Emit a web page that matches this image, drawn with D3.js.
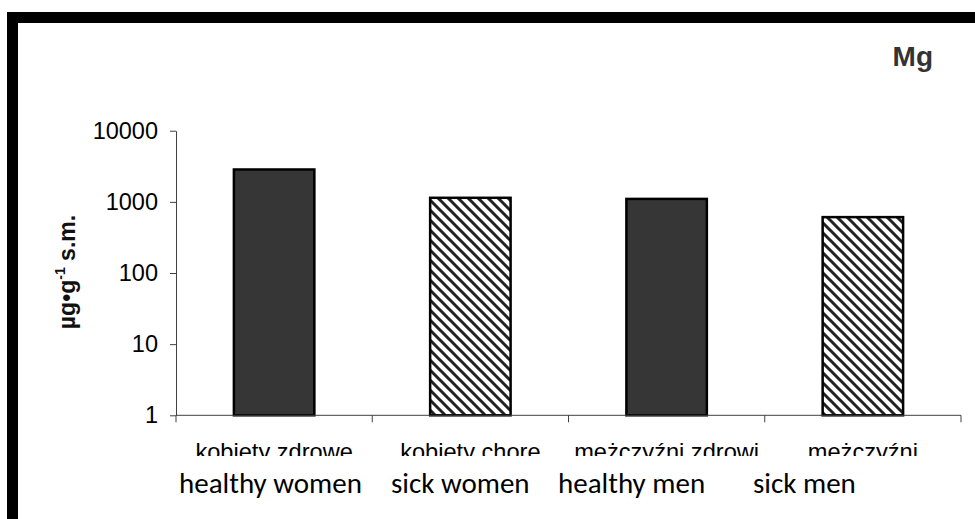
<!DOCTYPE html>
<html>
<head>
<meta charset="utf-8">
<script src="https://cdn.jsdelivr.net/npm/d3@7"></script>
<style>
  html, body { margin: 0; padding: 0; background: #fff; }
  svg { display: block; }
</style>
</head>
<body>
<script>
// Magnesium content per group (µg·g⁻¹ dry mass), log axis
const categories = ["kobiety zdrowe", "kobiety chore", "mężczyźni zdrowi", "mężczyźni chorzy"];
const englishLabels = ["healthy women", "sick women", "healthy men", "sick men"];
const values = [2850, 1140, 1100, 610];
const healthy = [true, false, true, false];
const yTicks = [1, 10, 100, 1000, 10000];
const title = "Mg";

const W = 975, H = 519;
const svg = d3.select("body").append("svg").attr("width", W).attr("height", H);

// diagonal hatching for the "sick" groups
const defs = svg.append("defs");
const pat = defs.append("pattern")
  .attr("id", "hatch").attr("patternUnits", "userSpaceOnUse")
  .attr("width", 10).attr("height", 10);
pat.append("rect").attr("width", 10).attr("height", 10).attr("fill", "#fff");
pat.append("path")
  .attr("d", "M0,0 L10,10 M-5,5 L5,15 M5,-5 L15,5")
  .attr("stroke", "#222").attr("stroke-width", 3);

defs.append("clipPath").attr("id", "labelClip")
  .append("rect").attr("x", 0).attr("y", 425).attr("width", W).attr("height", 31);

// frame: thick black strips along top and left
svg.append("rect").attr("x", 7).attr("y", 12).attr("width", W - 7).attr("height", 11).attr("fill", "#000");
svg.append("rect").attr("x", 7).attr("y", 12).attr("width", 11).attr("height", H - 12).attr("fill", "#000");

const x = d3.scaleBand().domain(categories).range([176, 961]).paddingInner(0.59).paddingOuter(0.295);
const y = d3.scaleLog().domain([1, 10000]).range([415.3, 130.7]);

// y axis
const yAxis = svg.append("g").attr("transform", "translate(176,0)")
  .call(d3.axisLeft(y).tickValues(yTicks).tickFormat(d3.format("d")).tickSize(6).tickSizeOuter(0));
yAxis.select(".domain").attr("stroke", "#404040");
yAxis.selectAll(".tick line").attr("stroke", "#404040");
yAxis.selectAll(".tick text")
  .attr("x", -18).attr("fill", "#000")
  .style("font-family", "'Liberation Sans', Arial, sans-serif").style("font-size", "23.5px");

// bars
svg.append("g").selectAll("rect").data(categories).join("rect")
  .attr("x", d => x(d))
  .attr("y", (d, i) => y(values[i]))
  .attr("width", x.bandwidth())
  .attr("height", (d, i) => y(1) - y(values[i]))
  .attr("fill", (d, i) => healthy[i] ? "#363636" : "url(#hatch)")
  .attr("stroke", "#000").attr("stroke-width", 2.5);

// x axis with ticks at category boundaries
const xg = svg.append("g");
xg.append("line").attr("x1", 176).attr("x2", 961).attr("y1", y(1)).attr("y2", y(1))
  .attr("stroke", "#404040");
const bounds = [176].concat(categories.map(c => x(c) + x.bandwidth() + x.step() * 0.295));
xg.selectAll("line.tk").data(bounds).join("line").attr("class", "tk")
  .attr("x1", d => d).attr("x2", d => d)
  .attr("y1", y(1)).attr("y2", y(1) + 7).attr("stroke", "#404040");

// Polish category labels (only their upper part fits the area)
svg.append("g").attr("clip-path", "url(#labelClip)")
  .selectAll("text").data(categories).join("text")
  .attr("x", d => x(d) + x.bandwidth() / 2)
  .attr("y", 460)
  .attr("text-anchor", "middle")
  .style("font-family", "'Liberation Sans', Arial, sans-serif").style("font-size", "23.6px")
  .attr("fill", "#000")
  .text((d, i) => i === 3 ? "mężczyźni" : d);

// English line underneath
const engX = [179, 391, 558, 753];
const eng = svg.append("text").attr("y", 493)
  .style("font-family", "Carlito, Calibri, 'Open Sans', sans-serif").style("font-size", "29px")
  .attr("fill", "#000");
eng.selectAll("tspan").data(englishLabels).join("tspan")
  .attr("x", (d, i) => engX[i]).text(d => d);

// axis title
const yl = svg.append("text")
  .attr("transform", "translate(75,272) rotate(-90)")
  .attr("text-anchor", "middle")
  .style("font-family", "'Liberation Sans', Arial, sans-serif").style("font-size", "23px")
  .style("font-weight", "bold").attr("fill", "#111");
yl.append("tspan").text("µg•g");
yl.append("tspan").attr("dy", -10).style("font-size", "14px").text("-1");
yl.append("tspan").attr("dy", 10).text(" s.m.");

// element symbol
svg.append("text").attr("x", 933).attr("y", 66).attr("text-anchor", "end")
  .style("font-family", "'Liberation Sans', Arial, sans-serif").style("font-size", "28px")
  .style("font-weight", "bold").attr("fill", "#333").text(title);
</script>
</body>
</html>
